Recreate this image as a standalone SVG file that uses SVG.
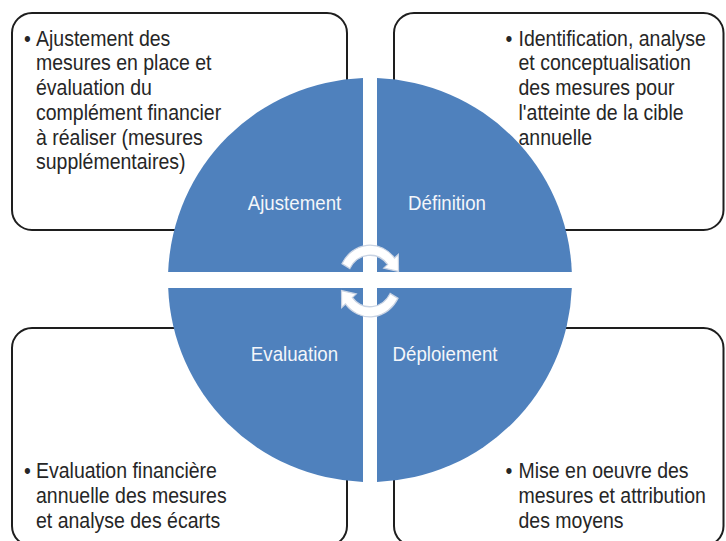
<svg xmlns="http://www.w3.org/2000/svg" width="726" height="541" viewBox="0 0 726 541">
  <style>
    .box { fill: #ffffff; stroke: #1e1e1e; stroke-width: 2; }
    .body { font-family: "Liberation Sans", Arial, sans-serif; font-size: 19.5px; fill: #262626; }
    .quad { fill: #4F81BD; }
    .lbl { font-family: "Liberation Sans", Arial, sans-serif; font-size: 18.7px; fill: #f4f6fa; text-anchor: middle; }
    .cyc { fill: #ffffff; stroke: #c9d3e3; stroke-width: 1.2; }
  </style>
  <rect width="726" height="541" fill="#ffffff"/>

  <g id="box-ajustement">
    <rect class="box" x="12" y="13" width="335" height="217" rx="20" ry="20"/>
    <g transform="translate(36,45.5) scale(1,1.12)">
      <text class="body" x="-12" y="0">•</text>
      <text class="body">
        <tspan x="0" y="0">Ajustement des</tspan>
        <tspan x="0" dy="22.14">mesures en place et</tspan>
        <tspan x="0" dy="22.14">évaluation du</tspan>
        <tspan x="0" dy="22.14">complément financier</tspan>
        <tspan x="0" dy="22.14">à réaliser (mesures</tspan>
        <tspan x="0" dy="22.14">supplémentaires)</tspan>
      </text>
    </g>
  </g>

  <g id="box-definition">
    <rect class="box" x="394" y="13" width="329.5" height="217" rx="20" ry="20"/>
    <g transform="translate(518.5,45.5) scale(1,1.12)">
      <text class="body" x="-13" y="0">•</text>
      <text class="body">
        <tspan x="0" y="0">Identification, analyse</tspan>
        <tspan x="0" dy="22.14">et conceptualisation</tspan>
        <tspan x="0" dy="22.14">des mesures pour</tspan>
        <tspan x="0" dy="22.14">l'atteinte de la cible</tspan>
        <tspan x="0" dy="22.14">annuelle</tspan>
      </text>
    </g>
  </g>

  <g id="box-evaluation">
    <rect class="box" x="12" y="328" width="335" height="218" rx="20" ry="20"/>
    <g transform="translate(36,478) scale(1,1.12)">
      <text class="body" x="-12" y="0">•</text>
      <text class="body">
        <tspan x="0" y="0">Evaluation financière</tspan>
        <tspan x="0" dy="22.14">annuelle des mesures</tspan>
        <tspan x="0" dy="22.14">et analyse des écarts</tspan>
      </text>
    </g>
  </g>

  <g id="box-deploiement">
    <rect class="box" x="394" y="328" width="329.5" height="218" rx="20" ry="20"/>
    <g transform="translate(518.5,478) scale(1,1.12)">
      <text class="body" x="-13" y="0">•</text>
      <text class="body">
        <tspan x="0" y="0">Mise en oeuvre des</tspan>
        <tspan x="0" dy="22.14">mesures et attribution</tspan>
        <tspan x="0" dy="22.14">des moyens</tspan>
      </text>
    </g>
  </g>

  <g id="quad-ajustement">
    <path class="quad" d="M363,272 V78.12 A202,202 0 0 0 168.16,272 Z"/>
    <text class="lbl" transform="translate(294.5,209.5) scale(1,1.12)">Ajustement</text>
  </g>
  <g id="quad-definition">
    <path class="quad" d="M377,272 V78.12 A202,202 0 0 1 571.84,272 Z"/>
    <text class="lbl" transform="translate(447,209.5) scale(1,1.12)">Définition</text>
  </g>
  <g id="quad-evaluation">
    <path class="quad" d="M363,288 V481.88 A202,202 0 0 1 168.16,288 Z"/>
    <text class="lbl" transform="translate(294.5,361) scale(1,1.12)">Evaluation</text>
  </g>
  <g id="quad-deploiement">
    <path class="quad" d="M377,288 V481.88 A202,202 0 0 0 571.84,288 Z"/>
    <text class="lbl" transform="translate(445,361) scale(1,1.12)">Déploiement</text>
  </g>

  <g id="connectors" transform="translate(370,281) scale(1,1.12)">
    <path class="cyc" d="M-27.99,-15.51 A32,32 0 0 1 24.51,-20.57 L28.34,-23.78 L28.5,-8.5 L13.79,-11.57 L17.62,-14.78 A23,23 0 0 0 -20.12,-11.15 Z"/>
    <path class="cyc" d="M27.99,15.51 A32,32 0 0 1 -24.51,20.57 L-28.34,23.78 L-28.5,8.5 L-13.79,11.57 L-17.62,14.78 A23,23 0 0 0 20.12,11.15 Z"/>
  </g>
</svg>
